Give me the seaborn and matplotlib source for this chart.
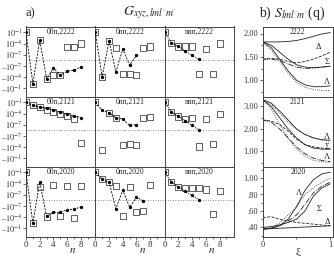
import numpy as np
import matplotlib
matplotlib.use("Agg")
import matplotlib.pyplot as plt
from matplotlib.ticker import FixedLocator, FixedFormatter, MultipleLocator
import seaborn as sns

# ---------------- panel a) : G_xyz,lml'm'  (symlog values) ----------------
n_sq = list(range(9))
rows = ["2222", "2121", "2020"]
cols = ["00n", "0nn", "nnn"]

# open squares, n = 0..8
sq_00n_2222 = [1e-1, -5e-3, 8e-4, -2.5e-4, -3.2e-5, -3.2e-5, 1.3e-5, 1.3e-5, 1e-4]
sq_0nn_2222 = [1e-1, -8e-5, 5e-4, 5e-6, -1.8e-5, -1.8e-5, -2.5e-5, 8e-6, 1.6e-5]
sq_nnn_2222 = [1e-1, 1.6e-4, 1.6e-5, 1.6e-5, 1.6e-5, -1.8e-5, 4e-6, -1.3e-5, 1e-4]
sq_00n_2121 = [1e-1, 1.6e-2, 5e-3, 8e-4, 2.5e-4, 6.3e-5, 2.5e-5, 3.2e-6, -8e-6]
sq_0nn_2121 = [1e-1, -5e-4, 1.6e-4, 8e-6, -3.2e-5, -1.3e-5, -3.2e-5, 6.3e-6, 1.3e-5]
sq_nnn_2121 = [1e-1, 2.5e-4, 1.6e-5, 3.2e-6, 6.3e-6, -6.3e-5, 3.2e-6, -1.6e-5, 6.3e-5]
sq_00n_2020 = [1e-1, -4e-3, 1.3e-5, -6.3e-5, 3.2e-5, -4e-5, 2e-5, -2e-4, 2e-5]
sq_0nn_2020 = [1e-1, 1.3e-3, 2.5e-4, 2e-5, -4e-5, 1.3e-5, -5e-6, -2e-6, 3.2e-5]
sq_nnn_2020 = [1e-1, 2.5e-4, 1.3e-5, 6.3e-6, 6.3e-6, 5e-6, 2.5e-6, -1.6e-5, 1.3e-6]

# filled dots joined by a line
dot_00n_2222 = [1e-1, -5e-3, 8e-4, -2.5e-4, -3.2e-7, -3.2e-5, -2.5e-6, -1.3e-6, -2e-7]
dot_0nn_2222 = [1e-1, -8e-5, 5e-4, -4e-6, 3.2e-6, -8.7e-8, 8.7e-8]
dot_nnn_2222 = [1e-1, 1.6e-4, 1.6e-5, 1e-6, 8.7e-8, 1.8e-8]
dot_00n_2121 = [1e-1, 1.6e-2, 5e-3, 2.5e-3, 8e-4, 2.5e-4, 6.3e-5, 2.5e-5, 8e-6]
dot_0nn_2121 = [1e-1, 8e-4, 1.6e-4, 8e-6, 3.2e-6, 8.7e-8, 1e-7]
dot_nnn_2121 = [1e-1, 2.5e-4, 1.6e-5, 1.3e-6, 8.7e-8, 7e-9]
dot_00n_2020 = [1e-1, -4e-3, 2.5e-4, -6.3e-5, -5e-6, -5e-6, -1e-6, -6.3e-7, -2e-7]
dot_0nn_2020 = [1e-1, 1.3e-3, 2.5e-4, -5e-7, 1.6e-6, -2e-7, 5.3e-8, -7e-9]
dot_nnn_2020 = [1e-1, 2.5e-4, 1.3e-5, 8e-7, 8.7e-8, 1.3e-8]

squares = {
    ("2222", "00n"): sq_00n_2222, ("2222", "0nn"): sq_0nn_2222, ("2222", "nnn"): sq_nnn_2222,
    ("2121", "00n"): sq_00n_2121, ("2121", "0nn"): sq_0nn_2121, ("2121", "nnn"): sq_nnn_2121,
    ("2020", "00n"): sq_00n_2020, ("2020", "0nn"): sq_0nn_2020, ("2020", "nnn"): sq_nnn_2020,
}
dots = {
    ("2222", "00n"): dot_00n_2222, ("2222", "0nn"): dot_0nn_2222, ("2222", "nnn"): dot_nnn_2222,
    ("2121", "00n"): dot_00n_2121, ("2121", "0nn"): dot_0nn_2121, ("2121", "nnn"): dot_nnn_2121,
    ("2020", "00n"): dot_00n_2020, ("2020", "0nn"): dot_0nn_2020, ("2020", "nnn"): dot_nnn_2020,
}
g_ticks = [1e-1, 1e-4, 1e-7, -1e-7, -1e-4, -1e-1]
g_labels = [r"$10^{-1}$", r"$10^{-4}$", r"$10^{-7}$", r"–$10^{-7}$", r"–$10^{-4}$", r"–$10^{-1}$"]

# ---------------- panel b) : S_lml'm'(q) ----------------
xi = [0, 0.125, 0.25, 0.375, 0.5, 0.625, 0.75, 0.875, 1.0]
s2222 = {
    "top_solid": [1.82, 1.82, 1.82, 1.83, 1.85, 1.89, 1.94, 1.99, 2.02],
    "sig_dash":  [1.45, 1.47, 1.45, 1.40, 1.37, 1.40, 1.45, 1.52, 1.60],
    "mid_solid": [1.82, 1.75, 1.60, 1.45, 1.33, 1.28, 1.27, 1.28, 1.30],
    "mid_dashdot": [1.45, 1.45, 1.42, 1.35, 1.28, 1.25, 1.26, 1.28, 1.30],
    "low_solid": [1.82, 1.70, 1.45, 1.20, 1.00, 0.90, 0.86, 0.86, 0.88],
    "low_dot":   [1.82, 1.65, 1.40, 1.15, 0.95, 0.85, 0.80, 0.78, 0.78],
}
s2121 = {
    "top_solid": [3.30, 3.15, 2.80, 2.40, 2.00, 1.75, 1.60, 1.52, 1.50],
    "top_dot":   [3.30, 3.10, 2.70, 2.30, 2.00, 1.75, 1.60, 1.50, 1.45],
    "sig_dash":  [2.40, 2.35, 2.20, 1.90, 1.55, 1.30, 1.20, 1.15, 1.10],
    "mid_solid": [3.30, 3.00, 2.50, 2.00, 1.60, 1.30, 1.15, 1.10, 1.10],
    "low_dashdot": [2.40, 2.30, 2.00, 1.60, 1.20, 0.90, 0.70, 0.60, 0.55],
    "low_dot":   [3.30, 2.90, 2.20, 1.60, 1.10, 0.80, 0.60, 0.55, 0.50],
}
s2020 = {
    "flat_solid": [0.38, 0.385, 0.39, 0.395, 0.40, 0.405, 0.41, 0.415, 0.42],
    "flat_dash":  [0.52, 0.53, 0.50, 0.48, 0.46, 0.45, 0.44, 0.43, 0.42],
    "lam_solid":  [0.38, 0.39, 0.42, 0.50, 0.65, 0.85, 0.98, 1.05, 1.07],
    "lam_dot":    [0.38, 0.40, 0.45, 0.55, 0.65, 0.80, 0.88, 0.95, 1.00],
    "sig_dashdot": [0.38, 0.39, 0.42, 0.48, 0.55, 0.68, 0.82, 0.90, 0.95],
    "sig_solid":  [0.40, 0.41, 0.43, 0.46, 0.50, 0.60, 0.78, 0.88, 0.93],
}
styles = {"solid": "-", "dash": "--", "dot": ":", "dashdot": "-."}

sns.set_theme(style="ticks")
plt.rcParams["font.family"] = ["Liberation Serif", "DejaVu Serif"]
plt.rcParams["mathtext.fontset"] = "stix"
plt.rcParams["axes.linewidth"] = 0.7
plt.rcParams["axes.edgecolor"] = "#444444"
for k in ["xtick", "ytick"]:
    plt.rcParams[k + ".major.size"] = 2
    plt.rcParams[k + ".minor.size"] = 1.2
    plt.rcParams[k + ".major.width"] = 0.5
    plt.rcParams[k + ".minor.width"] = 0.5
    plt.rcParams[k + ".major.pad"] = 1
    plt.rcParams[k + ".color"] = "#333333"

W, H = 334, 256
fig = plt.figure(figsize=(W / 100, H / 100), dpi=100)

def fbox(x0, y0, x1, y1):
    return [x0 / W, 1 - y1 / H, (x1 - x0) / W, (y1 - y0) / H]

col_x = [26, 95.3, 164.6, 234]
row_y = [26.5, 96.5, 166.5, 236.5]

for r, row in enumerate(rows):
    for c, col in enumerate(cols):
        ax = fig.add_axes(fbox(col_x[c], row_y[r], col_x[c + 1], row_y[r + 1]))
        ax.set_yscale("symlog", linthresh=1e-7, linscale=1.35)
        ax.axhline(0, color="#666666", lw=0.6, ls=(0, (1, 2)))
        sq = squares[(row, col)]
        sns.scatterplot(x=n_sq[:len(sq)], y=sq, ax=ax, marker="s", s=19,
                        facecolors="none", edgecolors="#555555", linewidth=0.65, zorder=3)
        d = dots[(row, col)]
        ls = (0, (1.2, 1.2)) if c == 2 else (0, (2.5, 1.5))
        sns.lineplot(x=n_sq[:len(d)], y=d, ax=ax, color="black", lw=0.6,
                     linestyle=ls, marker="o", markersize=2.4, markeredgewidth=0, zorder=4)
        ax.set_xlim(0, 10.1)
        ax.set_ylim(-14, 3.5)
        ax.xaxis.set_major_locator(FixedLocator([0, 2, 4, 6, 8]))
        ax.xaxis.set_minor_locator(FixedLocator([1, 3, 5, 7, 9]))
        ax.yaxis.set_major_locator(FixedLocator(g_ticks))
        ax.yaxis.set_minor_locator(FixedLocator([]))
        if c == 0:
            ax.yaxis.set_major_formatter(FixedFormatter(g_labels))
        else:
            ax.set_yticklabels([])
            ax.tick_params(axis="y", length=0)
        ax.tick_params(axis="y", labelsize=6, pad=0.5)
        ax.tick_params(axis="x", labelsize=6.5)
        if r == 2:
            ax.set_xlabel("$n$", fontsize=8, labelpad=0)
            ax.xaxis.set_label_coords(0.68, -0.13)
        else:
            ax.set_xticklabels([])
        ax.set_ylabel("")
        ax.text(0.5, 0.985, f"{col},{row}", transform=ax.transAxes, ha="center",
                va="top", fontsize=5.5)

# panel b
s_data = [s2222, s2121, s2020]
s_ylim = [(0.65, 2.15), (0.33, 3.44), (0.29, 1.14)]
s_ticks = [[1.0, 1.5, 2.0], [1.0, 2.0, 3.0], [0.4, 0.6, 0.8, 1.0]]
s_tlabels = [["1.00", "1.50", "2.00"], ["1.00", "2.00", "3.00"], [".40", ".60", ".80", "1.00"]]
s_minor = [0.25, 0.5, 0.1]
s_text = [
    [("Δ", 0.82, 1.72), ("Σ", 0.95, 1.40), ("Λ", 0.95, 0.96)],
    [("Λ", 0.95, 1.62), ("Σ", 0.95, 1.20), ("Λ", 0.95, 0.75)],
    [("Λ", 0.53, 0.82), ("Σ", 0.84, 0.62), ("Δ", 0.96, 0.46)],
]
for r, row in enumerate(rows):
    ax = fig.add_axes(fbox(262.7, row_y[r], 333, row_y[r + 1]))
    for name, vals in s_data[r].items():
        st = styles[name.split("_")[1]]
        sns.lineplot(x=xi, y=vals, ax=ax, color="#222222", lw=0.6, linestyle=st)
    ax.set_xlim(0, 1.04)
    ax.set_ylim(*s_ylim[r])
    ax.yaxis.set_major_locator(FixedLocator(s_ticks[r]))
    ax.yaxis.set_major_formatter(FixedFormatter(s_tlabels[r]))
    ax.yaxis.set_minor_locator(MultipleLocator(s_minor[r]))
    ax.xaxis.set_major_locator(FixedLocator([0, 1]))
    ax.xaxis.set_minor_locator(FixedLocator([0.5]))
    ax.tick_params(labelsize=6)
    ax.set_ylabel("")
    if r == 2:
        ax.set_xticklabels(["0", "1"])
        ax.set_xlabel("ξ", fontsize=8, labelpad=-1)
    else:
        ax.set_xticklabels([])
    ax.text(0.5, 0.985, row, transform=ax.transAxes, ha="center", va="top", fontsize=5.5)
    for t, x, y in s_text[r]:
        ax.text(x, y, t, fontsize=6, ha="center", va="center")

fig.text(30 / W, 1 - 13 / H, "a)", fontsize=9, ha="center", va="center")
fig.text(150 / W, 1 - 13 / H, r"$G_{xyz,lml'm'}$", fontsize=10, ha="center", va="center")
fig.text(292 / W, 1 - 13 / H, r"b) $S_{lml'm'}$(q)", fontsize=10, ha="center", va="center")

fig.savefig("out.png", dpi=100)
